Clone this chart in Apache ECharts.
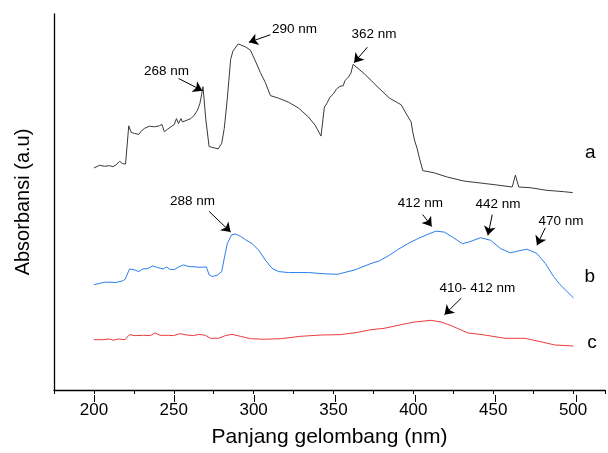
<!DOCTYPE html>
<html><head><meta charset="utf-8">
<script src="https://cdn.jsdelivr.net/npm/echarts@6/dist/echarts.min.js"></script>
<style>html,body{margin:0;padding:0;background:#fff}#c{width:608px;height:453px}</style>
</head><body><div id="c"></div>
<script>
// ---- Data (wavelength in nm, absorbance in arbitrary units, curves offset) ----
const wavelengthA = [200,203.6,206.7,209.8,211.9,214.0,216.1,218.1,219.8,221.8,223.3,225.4,228.1,229.6,231.6,234.7,237.9,241.0,242.6,244.1,246.1,248.2,250.3,251.7,253.0,254.5,255.4,257.6,260.7,262.7,264.8,266.3,267.5,268.3,270.0,272.1,277.8,280.0,281.6,283.5,285.6,287.0,290.3,294.9,298.0,301.1,304.2,307.3,310.5,315.6,321.8,328.1,334.3,338.5,342.2,344.3,345.7,347.8,349.9,351.9,354.0,356.1,357.1,359.2,360.9,362.3,369.6,377.9,385.1,392.4,395.5,398.6,399.6,400.7,402.3,403.8,405.9,413.1,421.4,431.8,444.3,452.5,461.9,463.9,466.0,473.2,483.6,494.0,499.8];
const absorbanceA = [2.25,2.277,2.267,2.273,2.263,2.283,2.317,2.293,2.29,2.677,2.61,2.60,2.59,2.623,2.65,2.673,2.667,2.677,2.69,2.617,2.643,2.667,2.69,2.75,2.70,2.75,2.717,2.73,2.75,2.783,2.833,2.90,3.00,3.073,2.75,2.467,2.443,2.50,2.65,2.95,3.35,3.433,3.507,3.477,3.443,3.333,3.217,3.117,2.983,2.957,2.917,2.857,2.767,2.683,2.573,2.867,2.90,2.967,3.00,3.05,3.077,3.083,3.133,3.167,3.21,3.30,3.20,3.067,2.957,2.89,2.80,2.717,2.617,2.533,2.45,2.35,2.223,2.20,2.157,2.117,2.093,2.077,2.057,2.177,2.057,2.05,2.023,2.01,2.00];

const wavelengthB = [200,206.7,214.0,218.1,219.6,222.3,225.4,228.1,230.6,233.7,236.8,239.9,243.4,245.5,247.6,250.3,253.4,256.1,259.6,262.7,265.8,270.4,272.1,274.1,277.2,280.0,281.4,283.5,286.2,288.7,291.8,294.9,299.0,303.2,307.3,311.5,315.6,321.8,334.3,344.7,352.9,355.0,363.4,372.7,378.9,385.1,390.3,396.5,402.7,409.0,414.1,419.4,424.5,430.7,434.9,442.1,448.4,454.6,460.8,466.0,471.2,477.4,482.6,487.8,491.9,496.1,500.3];
const absorbanceB = [1.067,1.093,1.09,1.107,1.123,1.227,1.217,1.20,1.227,1.23,1.257,1.24,1.227,1.247,1.223,1.22,1.25,1.267,1.25,1.25,1.243,1.247,1.167,1.15,1.163,1.20,1.317,1.483,1.573,1.58,1.557,1.523,1.483,1.417,1.317,1.233,1.20,1.19,1.19,1.177,1.173,1.183,1.217,1.277,1.31,1.367,1.423,1.483,1.533,1.577,1.61,1.60,1.55,1.483,1.50,1.543,1.517,1.433,1.39,1.41,1.427,1.383,1.283,1.15,1.067,1.00,0.933];

const wavelengthC = [200,205.8,210.0,212.1,215.2,219.5,222.2,225.8,231.0,235.2,238.3,241.4,246.7,249.8,254.0,258.2,262.4,265.5,269.8,272.9,278.1,282.3,286.5,291.7,298.0,306.4,316.9,329.4,342.0,354.6,365.1,373.4,381.8,392.3,400.7,411.1,417.4,423.7,434.2,444.7,457.3,469.8,480.3,488.6,500.2];
const absorbanceC = [0.51,0.51,0.517,0.504,0.517,0.51,0.561,0.551,0.554,0.551,0.578,0.554,0.554,0.551,0.571,0.557,0.551,0.564,0.554,0.524,0.524,0.551,0.564,0.544,0.52,0.514,0.52,0.544,0.557,0.561,0.584,0.611,0.625,0.662,0.689,0.706,0.689,0.652,0.578,0.557,0.524,0.524,0.487,0.456,0.446];

const xTickValues = [200,250,300,350,400,450,500];
const seriesNames = ['a','b','c'];

// ---- Annotation placement (data coordinates) ----
const peakLabels = [
  {s:0, text:'268 nm', at:[245.5,3.233], from:[253.0,3.157], to:[267.9,3.033]},
  {s:0, text:'290 nm', at:[325.6,3.657], from:[310.5,3.600], to:[297.0,3.523]},
  {s:0, text:'362 nm', at:[375.4,3.607], from:[371.2,3.473], to:[362.9,3.317]},
  {s:1, text:'288 nm', at:[261.7,1.917], from:[272.1,1.810], to:[285.6,1.600]},
  {s:1, text:'412 nm', at:[404.4,1.890], from:[405.9,1.777], to:[411.5,1.657]},
  {s:1, text:'442 nm', at:[453.0,1.877], from:[449.4,1.777], to:[446.7,1.567]},
  {s:1, text:'470 nm', at:[492.4,1.710], from:[482.6,1.643], to:[477.4,1.467]},
  {s:2, text:'410- 412 nm', at:[440.1,1.032], from:[430.0,0.931], to:[419.5,0.763]}
];
const curveLabelPos = [[510.8,2.405],[510.5,1.15],[511.9,0.482]];

// ---- Layout ----
const X_MIN = 175, X_MAX = 520, GRID_LEFT = 54, GRID_RIGHT = 0, GRID_TOP = 14, GRID_BOTTOM = 58, W = 608;
const pxPerNm = (W - GRID_LEFT - GRID_RIGHT) / (X_MAX - X_MIN);
const majorGridLeft = GRID_LEFT + (xTickValues[0] - X_MIN) * pxPerNm;

const FONT = 'Liberation Sans, Arial, Helvetica, sans-serif';
const colors = ['#3a3a3a','#2b7de9','#ec3b3b'];
const xs = [wavelengthA, wavelengthB, wavelengthC];
const ys = [absorbanceA, absorbanceB, absorbanceC];

const series = seriesNames.map((nm, i) => {
  const pl = peakLabels.filter(p => p.s === i);
  return {
    name: nm, type: 'line', showSymbol: false, symbol: 'none',
    xAxisIndex: 0, yAxisIndex: 0,
    data: xs[i].map((x, k) => [x, ys[i][k]]),
    lineStyle: {color: colors[i], width: 1},
    itemStyle: {color: colors[i]},
    silent: true,
    markLine: {
      silent: true, animation: false,
      symbol: ['none', 'arrow'], symbolSize: 9,
      lineStyle: {color: '#000', width: 1, type: 'solid'},
      label: {show: false},
      emphasis: {disabled: true},
      data: pl.map(p => [{coord: p.from}, {coord: p.to}])
    },
    markPoint: {
      silent: true, animation: false,
      symbol: 'rect', symbolSize: 1,
      itemStyle: {color: 'rgba(0,0,0,0)'},
      label: {show: true, position: 'inside', color: '#000', fontFamily: FONT, fontSize: 13.5,
              formatter: p => p.name},
      data: pl.map(p => ({name: p.text, coord: p.at})).concat([
        {name: nm, coord: curveLabelPos[i], label: {fontSize: 19}}
      ])
    }
  };
});

const chart = echarts.init(document.getElementById('c'), null, {renderer: 'canvas'});
chart.setOption({
  animation: false,
  backgroundColor: '#fff',
  grid: [
    {left: GRID_LEFT, right: GRID_RIGHT, top: GRID_TOP, bottom: GRID_BOTTOM, containLabel: false},
    {left: majorGridLeft, right: GRID_RIGHT, top: GRID_TOP, bottom: GRID_BOTTOM, containLabel: false}
  ],
  xAxis: [{
    gridIndex: 0, type: 'value', min: X_MIN, max: X_MAX, interval: 25,
    name: 'Panjang gelombang (nm)', nameLocation: 'middle', nameGap: 37,
    nameTextStyle: {fontFamily: FONT, fontSize: 21, color: '#000'},
    axisLine: {show: true, lineStyle: {color: '#000', width: 1.3}},
    axisTick: {show: true, length: 4, inside: false, lineStyle: {color: '#000', width: 1}},
    axisLabel: {show: true, margin: 11.5, fontFamily: FONT, fontSize: 17, color: '#000',
      formatter: v => xTickValues.indexOf(v) >= 0 ? String(v) : '',
      showMinLabel: true, showMaxLabel: true},
    splitLine: {show: false}
  }, {
    // major tick marks only (decorative), aligned with the main axis scale
    gridIndex: 1, type: 'value', min: xTickValues[0], max: X_MAX, interval: 50,
    axisLine: {show: false},
    axisTick: {show: true, length: 7, inside: false, lineStyle: {color: '#000', width: 1}},
    axisLabel: {show: false}, splitLine: {show: false}
  }],
  yAxis: [{
    gridIndex: 0, type: 'value', min: 0, max: 3.81,
    name: 'Absorbansi (a.u)', nameLocation: 'middle', nameGap: 21, nameRotate: 90,
    nameTextStyle: {fontFamily: FONT, fontSize: 20, color: '#000'},
    axisLine: {show: true, lineStyle: {color: '#000', width: 1.3}},
    axisTick: {show: false}, axisLabel: {show: false}, splitLine: {show: false}
  }, {
    gridIndex: 1, type: 'value', min: 0, max: 1, show: false
  }],
  series: series
});
</script></body></html>
